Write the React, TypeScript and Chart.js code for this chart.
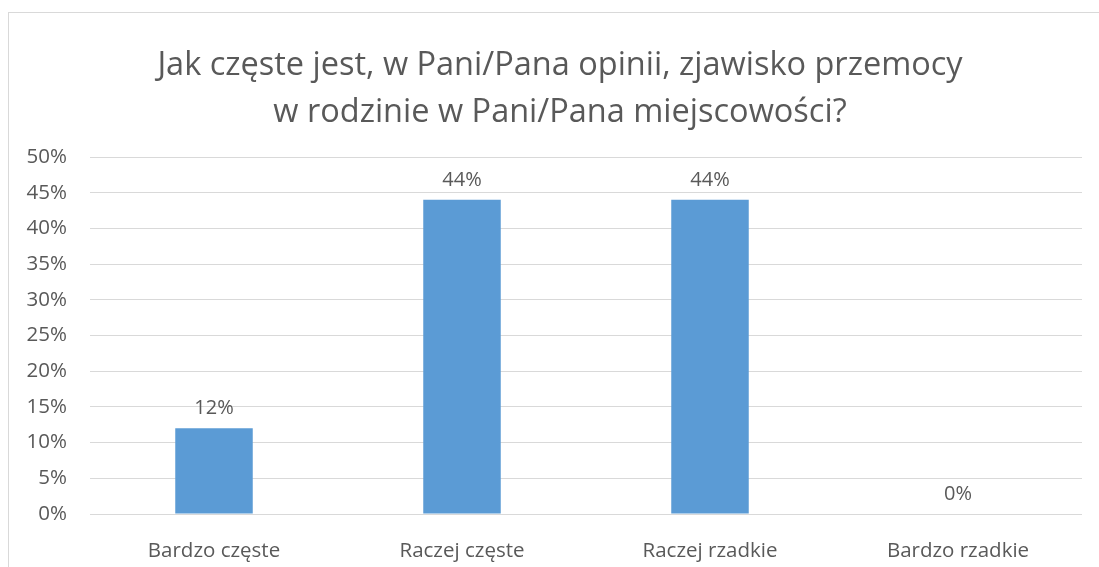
import React, { useEffect, useRef } from "react";
import { Chart, registerables } from "chart.js";

Chart.register(...registerables);

const TITLE_LINES = [
  "Jak częste jest, w Pani/Pana opinii, zjawisko przemocy",
  "w rodzinie w Pani/Pana miejscowości?",
];
const CATEGORIES = ["Bardzo częste", "Raczej częste", "Raczej rzadkie", "Bardzo rzadkie"];
const VALUES = [12, 44, 44, 0];
const Y_MIN = 0;
const Y_MAX = 50;
const Y_STEP = 5;

const FONT = "'Open Sans', 'DejaVu Sans', sans-serif";
const TEXT_COLOR = "#595959";
const GRID_COLOR = "#d9d9d9";
const BAR_COLOR = "#5b9bd5";

const titlePlugin = {
  id: "customTitle",
  afterDraw(chart: any) {
    const ctx = chart.ctx;
    ctx.save();
    ctx.fillStyle = TEXT_COLOR;
    ctx.font = `32.5px ${FONT}`;
    ctx.textAlign = "center";
    ctx.textBaseline = "alphabetic";
    const cx = 551;
    const baselines = [62, 108.5];
    TITLE_LINES.forEach((line, i) => ctx.fillText(line, cx, baselines[i]));
    ctx.restore();
  },
};

const dataLabelPlugin = {
  id: "dataLabels",
  afterDatasetsDraw(chart: any) {
    const ctx = chart.ctx;
    const meta = chart.getDatasetMeta(0);
    ctx.save();
    ctx.fillStyle = TEXT_COLOR;
    ctx.font = `20px ${FONT}`;
    ctx.textAlign = "center";
    ctx.textBaseline = "alphabetic";
    meta.data.forEach((bar: any, i: number) => {
      ctx.fillText(`${VALUES[i]}%`, bar.x, bar.y - 14);
    });
    ctx.restore();
  },
};

export default function App() {
  const ref = useRef<HTMLCanvasElement | null>(null);
  useEffect(() => {
    if (!ref.current) return;
    const chart = new Chart(ref.current, {
      type: "bar",
      data: {
        labels: CATEGORIES,
        datasets: [
          {
            data: VALUES,
            backgroundColor: BAR_COLOR,
            categoryPercentage: 1,
            barPercentage: 0.3125,
          },
        ],
      },
      options: {
        responsive: false,
        animation: false,
        devicePixelRatio: 1,
        layout: { padding: { top: 144, right: 17, left: 0, bottom: 0 } },
        plugins: {
          legend: { display: false },
          title: { display: false },
          tooltip: { enabled: false },
        },
        scales: {
          x: {
            grid: { display: false },
            border: { display: false },
            ticks: {
              color: TEXT_COLOR,
              font: { family: FONT, size: 20.5 },
              padding: 17,
              maxRotation: 0,
            },
            afterFit(scale: any) {
              scale.height = 53;
            },
          },
          y: {
            min: Y_MIN,
            max: Y_MAX,
            border: { display: false },
            grid: { color: GRID_COLOR, lineWidth: 1, drawTicks: false },
            ticks: {
              stepSize: Y_STEP,
              color: TEXT_COLOR,
              font: { family: FONT, size: 20.5 },
              padding: 23,
              callback: (v: any) => `${v}%`,
            },
            afterFit(scale: any) {
              scale.width = 81;
            },
          },
        },
      },
      plugins: [titlePlugin, dataLabelPlugin],
    });
    return () => chart.destroy();
  }, []);

  return (
    <div
      style={{
        position: "absolute",
        left: 8,
        top: 12,
        width: 1091,
        height: 555,
        borderLeft: `1px solid ${GRID_COLOR}`,
        borderTop: `1px solid ${GRID_COLOR}`,
        boxSizing: "border-box",
        overflow: "hidden",
        background: "#fff",
      }}
    >
      <canvas ref={ref} width={1090} height={554} style={{ display: "block" }} />
    </div>
  );
}
